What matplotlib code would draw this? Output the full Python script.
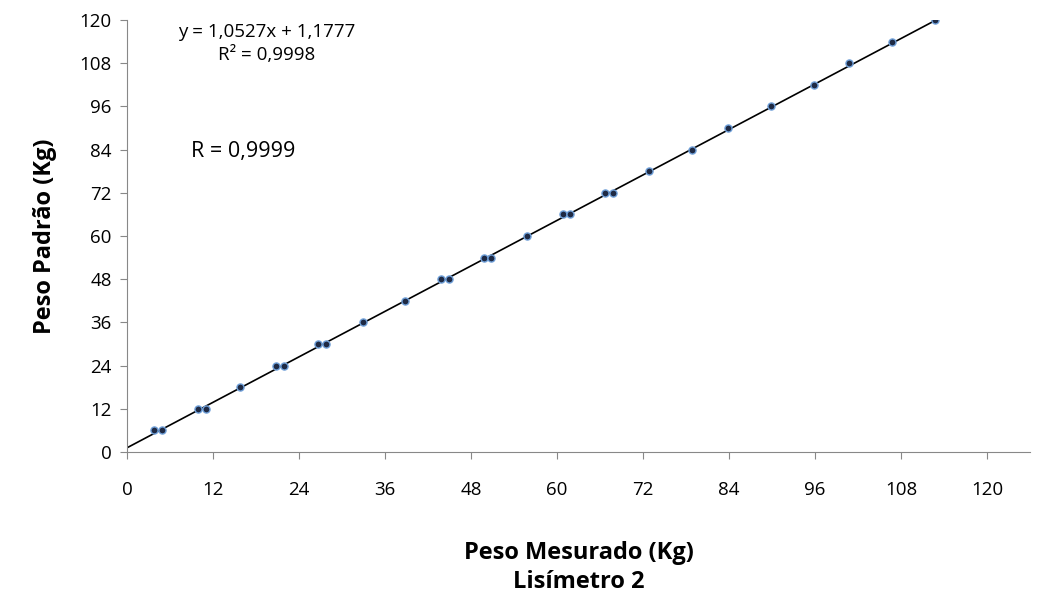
import matplotlib
matplotlib.use("Agg")
import matplotlib.pyplot as plt
import numpy as np

plt.rcParams["font.family"] = ["Open Sans", "DejaVu Sans"]

# Peso mesurado (x) vs peso padrão (y)
peso_mesurado = [3.8, 4.9, 9.9, 11.0, 15.8, 20.8, 21.9, 26.6, 27.8, 32.9, 38.8,
                 43.8, 44.9, 49.8, 50.8, 55.8, 60.8, 61.8, 66.7, 67.8, 72.8,
                 78.8, 83.9, 89.9, 95.9, 100.7, 106.7, 112.7]
peso_padrao = [6, 6, 12, 12, 18, 24, 24, 30, 30, 36, 42,
               48, 48, 54, 54, 60, 66, 66, 72, 72, 78,
               84, 90, 96, 102, 108, 114, 120]
slope, intercept = 1.0527, 1.1777
ticks = list(range(0, 121, 12))

fig = plt.figure(figsize=(10.49, 6.06), dpi=100)
ax = fig.add_axes([0.121, 0.254, 0.861, 0.713])

xl = np.array([0, max(peso_mesurado)])
ax.plot(xl, slope * xl + intercept, color="black", lw=1.2, zorder=1)
ax.scatter(peso_mesurado, peso_padrao, s=26, color="#1f2a44",
           edgecolors="#6f9fd8", linewidths=1.0, zorder=2)

ax.set_xlim(0, 126)
ax.set_ylim(0, 120)
ax.set_xticks(ticks)
ax.set_yticks(ticks)
ax.tick_params(labelsize=13.5, length=5, color="#888888")
ax.tick_params(axis="x", pad=16)
ax.tick_params(axis="y", pad=6)
for s in ("top", "right"):
    ax.spines[s].set_visible(False)
for s in ("left", "bottom"):
    ax.spines[s].set_color("#888888")

ax.set_ylabel("Peso Padrão (Kg)", fontsize=17, fontweight="bold", labelpad=16)
ax.set_xlabel("Peso Mesurado (Kg)\nLisímetro 2", fontsize=17,
              fontweight="bold", labelpad=30, linespacing=1.3)

ax.text(19.5, 113.5, "y = 1,0527x + 1,1777\nR² = 0,9998", fontsize=13.5,
        ha="center", va="center", linespacing=1.3)
ax.text(9, 83.5, "R = 0,9999", fontsize=15.5, ha="left", va="center")

fig.savefig("out.png", dpi=100)
